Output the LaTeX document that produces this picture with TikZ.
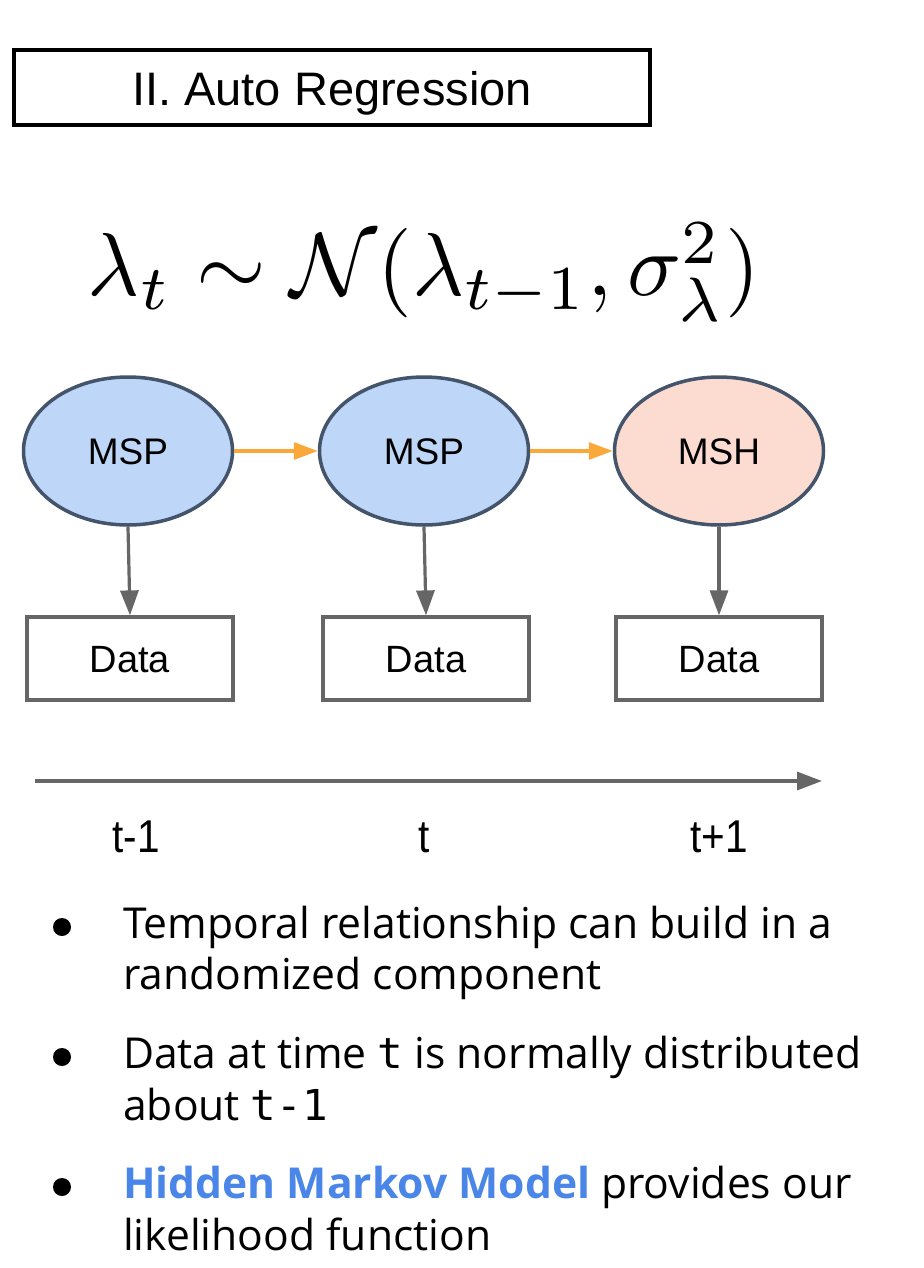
\documentclass[tikz,border=0pt]{standalone}
\usepackage{fontspec}
\usepackage{graphicx}
\usetikzlibrary{shapes.geometric,arrows.meta}
\newfontfamily\arialf{Liberation Sans}
\newfontfamily\opensf{Open Sans}
\newfontfamily\monof{DejaVu Sans Mono}
\definecolor{nodeblue}{HTML}{BED6F7}
\definecolor{nodepink}{HTML}{FCDBD0}
\definecolor{nodeedge}{HTML}{44546A}
\definecolor{arrgray}{HTML}{666666}
\definecolor{arrorange}{HTML}{FBA83A}
\definecolor{hmmblue}{HTML}{4A86E8}
\tikzset{
  state/.style={ellipse, draw=nodeedge, line width=3.5pt, minimum width=209pt, minimum height=148pt, inner sep=0pt,
    font=\arialf\fontsize{37}{44}\selectfont, text height=27pt, text depth=0pt},
  databox/.style={rectangle, draw=arrgray, line width=3.2pt, minimum width=206pt, minimum height=83pt, inner sep=0pt,
    font=\arialf\fontsize{38}{44}\selectfont, text height=27pt, text depth=0pt},
  orangearr/.style={draw=arrorange, line width=3.2pt, -{Triangle[length=24pt,width=17pt]}},
  grayarr/.style={draw=arrgray, line width=3.2pt, -{Triangle[length=25pt,width=18pt]}},
  tlabel/.style={anchor=base, inner sep=0pt, font=\arialf\fontsize{46}{54}\selectfont},
  bline/.style={anchor=base west, inner sep=0pt, font=\opensf\fontsize{42.6}{50}\selectfont},
  bdot/.style={circle, fill=black, minimum size=18pt, inner sep=0pt},
}
\begin{document}
\begin{tikzpicture}[x=1pt,y=-1pt]
\useasboundingbox (0,0) rectangle (923,1268);
% title
\node[draw=black, line width=4pt, minimum width=636pt, minimum height=75pt, inner sep=0pt,
  font=\arialf\fontsize{47}{56}\selectfont, text height=37pt, text depth=0pt] (title) at (332,87.5) {II. Auto Regression};
% formula
\node[inner sep=0pt] (formula) at (424,272) {\resizebox{672pt}{!}{$\lambda_t \sim \mathcal{N}(\lambda_{t-1},\sigma^2_\lambda)$}};
% states
\node[state, fill=nodeblue] (e1) at (128,451) {MSP};
\node[state, fill=nodeblue] (e2) at (424,451) {MSP};
\node[state, fill=nodepink] (e3) at (719,451) {MSH};
% data
\node[databox] (d1) at (130,658.5) {Data};
\node[databox] (d2) at (426,658.5) {Data};
\node[databox] (d3) at (719,658.5) {Data};
% arrows
\draw[orangearr] (e1.east) -- (e2.west);
\draw[orangearr] (e2.east) -- (e3.west);
\draw[grayarr] (e1.south) -- (d1.north);
\draw[grayarr] (e2.south) -- (d2.north);
\draw[grayarr] (e3.south) -- (d3.north);
% time axis
\coordinate (ts) at (35,781);
\coordinate (te) at (822,781);
\draw[grayarr] (ts) -- (te);
\node[tlabel] (l1) at (136,852) {\scalebox{0.88}[1]{t-1}};
\node[tlabel] (l2) at (424,852) {\scalebox{0.88}[1]{t}};
\node[tlabel] (l3) at (719,852) {\scalebox{0.88}[1]{t+1}};
% bullets
\node[bdot] (b1) at (62,927) {};
\node[bdot] (b2) at (62,1057) {};
\node[bdot] (b3) at (62,1187) {};
\node[bline] (s1a) at (123,938) {Temporal relationship can build in a};
\node[bline] (s1b) at (123,989) {randomized component};
\node[bline] (s2a) at (123,1068) {Data at time {\monof t} is normally distributed};
\node[bline] (s2b) at (123,1120) {about {\monof t-1}};
\node[bline] (s3a) at (123,1198) {{\bfseries\color{hmmblue}Hidden Markov Model} provides our};
\node[bline] (s3b) at (123,1250) {likelihood function};
\end{tikzpicture}
\end{document}
